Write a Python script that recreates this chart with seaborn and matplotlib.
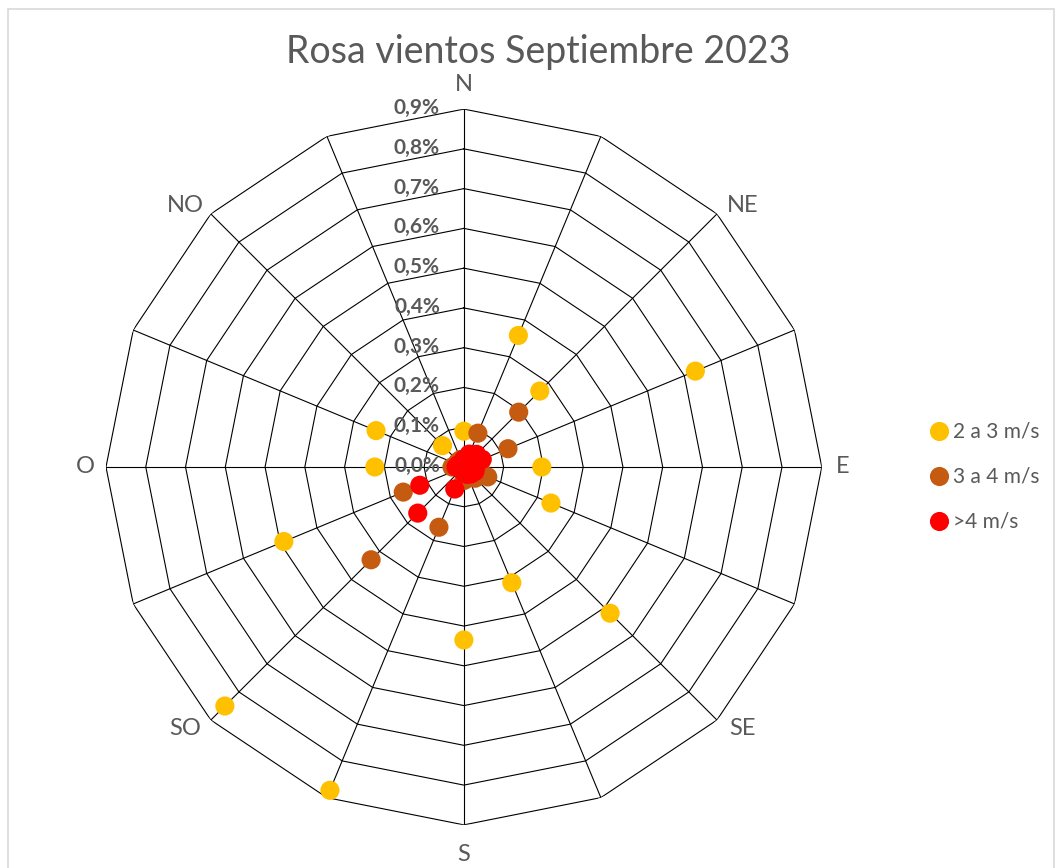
import numpy as np
import pandas as pd
import matplotlib
matplotlib.use("Agg")
import matplotlib.pyplot as plt
import matplotlib.transforms as mtransforms
from matplotlib.patches import Rectangle
import seaborn as sns

direcciones = ["N", "NNE", "NE", "ENE", "E", "ESE", "SE", "SSE",
               "S", "SSO", "SO", "OSO", "O", "ONO", "NO", "NNO"]
etiquetas = ["N", "", "NE", "", "E", "", "SE", "", "S", "", "SO", "", "O", "", "NO", ""]

# frecuencia en %
v_2a3 = [0.09, 0.358, 0.27, 0.63, 0.196, 0.237, 0.52, 0.315,
         0.435, 0.88, 0.85, 0.49, 0.224, 0.239, 0.076, 0.02]
v_3a4 = [0.02, 0.092, 0.195, 0.12, 0.04, 0.065, 0.04, 0.03,
         0.034, 0.164, 0.33, 0.165, 0.03, 0.02, 0.02, 0.02]
v_4 = [0.02, 0.035, 0.045, 0.05, 0.03, 0.03, 0.025, 0.02,
       0.015, 0.06, 0.164, 0.12, 0.02, 0.015, 0.01, 0.01]
series = ["2 a 3 m/s", "3 a 4 m/s", ">4 m/s"]
colores = ["#FFC000", "#C55A11", "#FF0000"]
anillos = [0.1, 0.2, 0.3, 0.4, 0.5, 0.6, 0.7, 0.8, 0.9]

ang = np.deg2rad(np.arange(16) * 22.5)
rows = []
for s, vals in zip(series, [v_2a3, v_3a4, v_4]):
    for a, v in zip(ang, vals):
        rows.append({"ang": a, "valor": v, "serie": s})
df = pd.DataFrame(rows)

gris = "#595959"
plt.rcParams["font.family"] = ["Lato", "DejaVu Sans"]

fig = plt.figure(figsize=(10.62, 8.68), dpi=100)
fig.patches.append(Rectangle((0.008, -0.01), 0.984, 1.0, transform=fig.transFigure,
                             fill=False, edgecolor="#D9D9D9", lw=1.2))
ax = fig.add_axes([0.0998, 0.0495, 0.674, 0.825], projection="polar")
ax.set_theta_zero_location("N")
ax.set_theta_direction(-1)
ax.set_ylim(0, 0.9)
ax.grid(False)
ax.spines["polar"].set_visible(False)
ax.set_xticks([])
ax.set_yticks([])

# rejilla poligonal
closed = np.append(ang, ang[0])
for r in anillos:
    ax.plot(closed, [r] * 17, color="black", lw=0.8, zorder=1)
for a in ang:
    ax.plot([a, a], [0, 0.9], color="black", lw=0.8, zorder=1)

sns.scatterplot(data=df, x="ang", y="valor", hue="serie", palette=colores,
                s=190, edgecolor="none", ax=ax, zorder=3, clip_on=False)

# etiquetas de direccion (las diagonales un poco abiertas hacia los lados)
for a, lab in zip(ang, etiquetas):
    if not lab:
        continue
    deg = np.rad2deg(a)
    if lab == "N":
        rr = 0.962
    elif lab == "S":
        rr = 0.975
    elif lab in ("E", "O"):
        rr = 0.952
    else:
        rr = 0.962
        deg = deg + (1.8 if deg in (45, 225) else -1.8)
    ax.text(np.deg2rad(deg), rr, lab, ha="center", va="center", fontsize=17, color=gris)

# etiquetas del eje radial
off = mtransforms.offset_copy(ax.transData, fig=fig, x=-24, y=1, units="dots")
for r in [0.0] + anillos:
    ax.text(0, r, f"{r:.1f}%".replace(".", ","), transform=off, ha="right",
            va="center", fontsize=15, fontweight="bold", color=gris, zorder=2)

ax.set_xlabel("")
ax.set_ylabel("")
fig.text(0.507, 0.94, "Rosa vientos Septiembre 2023", ha="center", va="center",
         fontsize=27, color=gris)

sns.move_legend(ax, "center left", bbox_to_anchor=(0.872, 0.4505),
                bbox_transform=fig.transFigure, frameon=False, title=None,
                fontsize=15, labelspacing=1.2, handletextpad=0.1, handlelength=1.2,
                borderaxespad=0, borderpad=0, labelcolor=gris, markerscale=1.0)

fig.savefig("out.png", dpi=100)
